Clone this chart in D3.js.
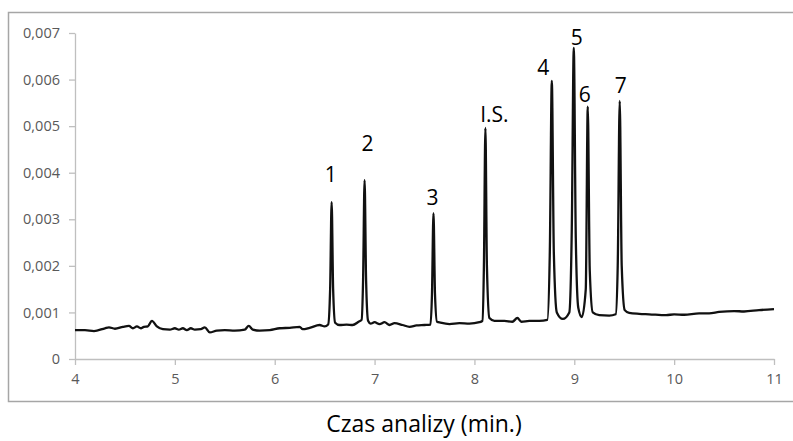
<!DOCTYPE html>
<html>
<head>
<meta charset="utf-8">
<script src="https://cdn.jsdelivr.net/npm/d3@7"></script>
<style>
  body { margin: 0; background: #fff; }
  svg { display: block; }
</style>
</head>
<body>
<div id="chart"></div>
<script>
// chromatogram (time in min, signal)
var time = [4.00, 4.10, 4.19, 4.30, 4.34, 4.40, 4.48, 4.54, 4.58, 4.62, 4.66, 4.69, 4.73, 4.77, 4.82, 4.88, 4.95,
  5.00, 5.04, 5.08, 5.12, 5.16, 5.20, 5.26, 5.30, 5.35, 5.42, 5.50, 5.60, 5.70, 5.74, 5.78, 5.85, 5.95,
  6.05, 6.15, 6.25, 6.28, 6.35, 6.45, 6.50, 6.535, 6.555, 6.57, 6.585, 6.605, 6.65, 6.72, 6.78, 6.84, 6.87,
  6.885, 6.90, 6.915, 6.935, 6.96, 7.00, 7.05, 7.10, 7.15, 7.20, 7.28, 7.35, 7.42, 7.50, 7.56,
  7.575, 7.59, 7.605, 7.625, 7.66, 7.75, 7.85, 7.95, 8.05, 8.08, 8.095, 8.11, 8.125, 8.15, 8.20, 8.30,
  8.38, 8.43, 8.47, 8.55, 8.65, 8.73, 8.755, 8.775, 8.795, 8.825, 8.885, 8.95, 8.975, 8.995, 9.015, 9.04,
  9.075, 9.115, 9.135, 9.155, 9.185, 9.25, 9.35, 9.415, 9.435, 9.455, 9.475, 9.505, 9.55, 9.65, 9.75, 9.92,
  10.00, 10.10, 10.25, 10.35, 10.45, 10.60, 10.70, 10.85, 11.00];
var signal = [0.00062, 0.00062, 0.00060, 0.00066, 0.00068, 0.00065, 0.00069, 0.00071, 0.00066, 0.00070, 0.00066, 0.00069, 0.00070, 0.00082, 0.00070, 0.00064, 0.00063,
  0.00066, 0.00063, 0.00066, 0.00062, 0.00066, 0.00063, 0.00064, 0.00068, 0.00057, 0.00061, 0.00062, 0.00061, 0.00063, 0.00071, 0.00063, 0.00061, 0.00062,
  0.00066, 0.00067, 0.00069, 0.00064, 0.00067, 0.00073, 0.00070, 0.00074, 0.00150, 0.00337, 0.00150, 0.00078, 0.00073, 0.00074, 0.00073, 0.00080, 0.00084,
  0.00170, 0.00384, 0.00170, 0.00082, 0.00076, 0.00079, 0.00075, 0.00079, 0.00073, 0.00077, 0.00073, 0.00069, 0.00072, 0.00073, 0.00074,
  0.00140, 0.00313, 0.00140, 0.00080, 0.00078, 0.00075, 0.00077, 0.00076, 0.00079, 0.00082, 0.00200, 0.00496, 0.00200, 0.00088, 0.00082, 0.00082,
  0.00080, 0.00088, 0.00080, 0.00082, 0.00082, 0.00084, 0.00230, 0.00597, 0.00230, 0.00100, 0.00086, 0.00100, 0.00280, 0.00668, 0.00260, 0.00110,
  0.00090, 0.00150, 0.00542, 0.00190, 0.00100, 0.00094, 0.00093, 0.00096, 0.00200, 0.00554, 0.00200, 0.00105, 0.00099, 0.00097, 0.00096, 0.00094,
  0.00096, 0.00095, 0.00098, 0.00098, 0.00101, 0.00103, 0.00102, 0.00105, 0.00107];

// peak labels
var peakNames = ["1", "2", "3", "I.S.", "4", "5", "6", "7"];
var peakTimes = [6.56, 6.93, 7.58, 8.20, 8.69, 9.025, 9.105, 9.465];
var peakLabelY = [0.00395, 0.00462, 0.00346, 0.00524, 0.00625, 0.00691, 0.00567, 0.00588];

var xTicks = [4, 5, 6, 7, 8, 9, 10, 11];
var yTicks = [0, 0.001, 0.002, 0.003, 0.004, 0.005, 0.006, 0.007];

var W = 793, H = 441;
var margin = {top: 33, right: 19, bottom: 82, left: 75},
    width = W - margin.left - margin.right,
    height = H - margin.top - margin.bottom;

var svg = d3.select("#chart").append("svg")
    .attr("width", W)
    .attr("height", H);

// chart frame
svg.append("rect")
    .attr("x", 8.5).attr("y", 12.5)
    .attr("width", 800).attr("height", 389)
    .attr("fill", "none")
    .attr("stroke", "#a6a6a6")
    .attr("stroke-width", 1.5);

var g = svg.append("g")
    .attr("transform", "translate(" + margin.left + "," + margin.top + ")");

var x = d3.scaleLinear().domain([4, 11]).range([0, width]);
var y = d3.scaleLinear().domain([0, 0.007]).range([height, 0]);

var comma = d3.formatLocale({decimal: ",", thousands: " ", grouping: [3], currency: ["", ""]}).format(".3f");

var yAxis = g.append("g")
    .call(d3.axisLeft(y).tickValues(yTicks).tickSize(6).tickSizeOuter(0).tickPadding(9)
      .tickFormat(function(d) { return d === 0 ? "0" : comma(d); }));

var xAxis = g.append("g")
    .attr("transform", "translate(0," + height + ")")
    .call(d3.axisBottom(x).tickValues(xTicks).tickSize(6).tickSizeOuter(0).tickPadding(9)
      .tickFormat(d3.format("d")));

[xAxis, yAxis].forEach(function(a) {
  a.select(".domain").attr("stroke", "#bfbfbf").attr("stroke-width", 1.3);
  a.selectAll(".tick line").attr("stroke", "#bfbfbf").attr("stroke-width", 1.3);
  a.selectAll(".tick text")
    .attr("fill", "#595959")
    .style("font-family", "'Open Sans', sans-serif")
    .style("font-size", "14.5px");
});

// trace
var line = d3.line()
    .x(function(d, i) { return x(time[i]); })
    .y(function(d) { return y(d); })
    .curve(d3.curveMonotoneX);

g.append("path")
    .datum(signal)
    .attr("fill", "none")
    .attr("stroke", "#111")
    .attr("stroke-width", 2.3)
    .attr("stroke-linejoin", "round")
    .attr("d", line);

g.selectAll(".peak-label")
  .data(peakNames)
  .enter().append("text")
    .attr("class", "peak-label")
    .attr("x", function(d, i) { return x(peakTimes[i]); })
    .attr("y", function(d, i) { return y(peakLabelY[i]); })
    .attr("dy", "0.35em")
    .attr("text-anchor", "middle")
    .style("font-family", "'Open Sans', sans-serif")
    .style("font-size", "21px")
    .attr("fill", "#000")
    .text(function(d) { return d; });

// axis title
svg.append("text")
    .attr("x", 424)
    .attr("y", 432)
    .attr("text-anchor", "middle")
    .style("font-family", "'Open Sans', sans-serif")
    .style("font-size", "23px")
    .attr("fill", "#000")
    .text("Czas analizy (min.)");
</script>
</body>
</html>
